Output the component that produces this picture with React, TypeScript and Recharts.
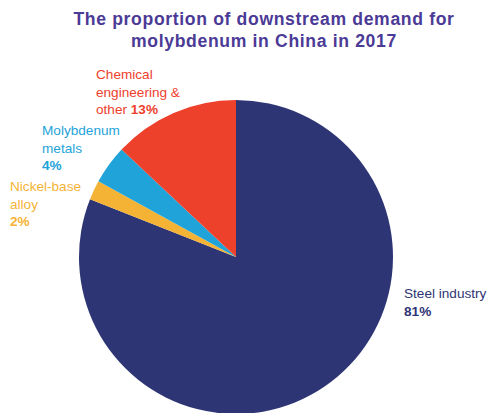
import React from "react"
import { PieChart, Pie, Cell } from "recharts"

const SEGMENTS = ["Steel industry", "Nickel-base alloy", "Molybdenum metals", "Chemical engineering & other"]
const SHARES = [81, 2, 4, 13]
const COLORS = ["#2e3574", "#f5b335", "#1fa3d9", "#ee412c"]

// label text lines (last line carries the bold percentage)
const LABEL_LINES = [
  ["Steel industry"],
  ["Nickel-base", "alloy"],
  ["Molybdenum", "metals"],
  ["Chemical", "engineering &", "other"],
]
const LABEL_POS = [
  { left: 404, top: 285, inline: false },
  { left: 10, top: 178, inline: false },
  { left: 42, top: 122, inline: false },
  { left: 96, top: 66, inline: true },
]

const TITLE = ["The proportion of downstream demand for", "molybdenum in China in 2017"]

const data = SEGMENTS.map((name, i) => ({ name, value: SHARES[i] }))

const font = '"Liberation Sans", Arial, sans-serif'

export default function App() {
  return (
    <div style={{ position: "fixed", left: 0, top: 0, width: 490, height: 413, background: "#fff", overflow: "hidden", fontFamily: font }}>
      <div style={{ position: "absolute", left: 0, width: 528, top: 8, textAlign: "center", color: "#4b3a96", fontWeight: 700, fontSize: 17.6, letterSpacing: 0.65, lineHeight: "22px" }}>
        {TITLE.map((t) => <div key={t}>{t}</div>)}
      </div>
      <div style={{ position: "absolute", left: 0, top: 0 }}>
        <PieChart width={490} height={413} margin={{ top: 0, right: 0, bottom: 0, left: 0 }}>
          <Pie
            data={data}
            dataKey="value"
            cx={236}
            cy={257}
            outerRadius={157}
            startAngle={90}
            endAngle={-270}
            stroke="none"
            isAnimationActive={false}
          >
            {data.map((d, i) => <Cell key={d.name} fill={COLORS[i]} />)}
          </Pie>
        </PieChart>
      </div>
      {data.map((d, i) => {
        const p = LABEL_POS[i]
        const lines = LABEL_LINES[i]
        return (
          <div key={d.name} style={{ position: "absolute", left: p.left, top: p.top, color: COLORS[i], fontSize: 13.6, lineHeight: "17.5px", whiteSpace: "nowrap" }}>
            {lines.map((l, j) => (
              <div key={j}>
                {l}
                {p.inline && j === lines.length - 1 && <b> {d.value}%</b>}
              </div>
            ))}
            {!p.inline && <div style={{ fontWeight: 700 }}>{d.value}%</div>}
          </div>
        )
      })}
    </div>
  )
}
